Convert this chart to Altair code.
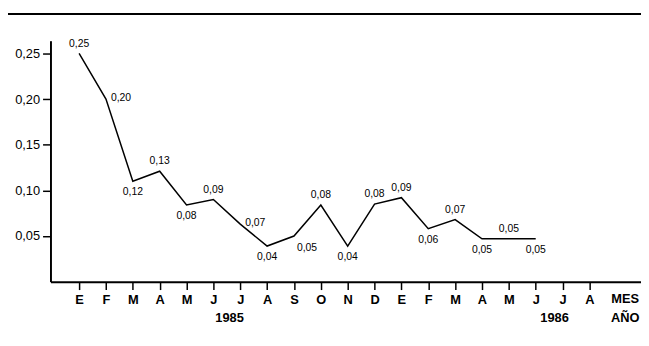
import json
import altair as alt
import pandas as pd

# --- data ---
month_letters = ["E", "F", "M", "A", "M", "J", "J", "A", "S", "O", "N", "D",
                 "E", "F", "M", "A", "M", "J", "J", "A"]
values = [0.250, 0.200, 0.110, 0.121, 0.084, 0.090, 0.063, 0.039, 0.050, 0.084,
          0.039, 0.085, 0.092, 0.058, 0.068, 0.047, 0.047, 0.047]
value_labels = ["0,25", "0,20", "0,12", "0,13", "0,08", "0,09", "0,07", "0,04", "0,05",
                "0,08", "0,04", "0,08", "0,09", "0,06", "0,07", "0,05", "0,05", "0,05"]
label_place = ["above", "right", "below", "above", "below", "above", "right", "below",
               "belowright", "above", "below", "above", "above", "below", "above",
               "below", "above", "below"]
years = ["1985", "1986"]
year_index = [5.6, 17.7]
y_ticks = [0.05, 0.10, 0.15, 0.20, 0.25]

df = pd.DataFrame({
    "i": list(range(len(values))),
    "v": values,
    "lab": value_labels,
    "place": label_place,
})

FONT = "Liberation Sans"
W, H = 598, 244

x_scale = alt.Scale(domain=[-1.066, 20.92], nice=False, zero=False)
y_scale = alt.Scale(domain=[0, 0.264], nice=False, zero=True)

label_expr = json.dumps(month_letters) + "[datum.value]"

x_axis = alt.Axis(values=list(range(len(month_letters))), labelExpr=label_expr,
                  grid=False, domainColor="black", domainWidth=2,
                  tickColor="black", tickWidth=1.5, tickSize=8,
                  labelFont=FONT, labelFontSize=13, labelColor="black",
                  labelFontWeight="bold",
                  labelPadding=4, labelFlush=False, labelOverlap=False,
                  labelBound=False, title=None)
y_axis = alt.Axis(values=y_ticks,
                  labelExpr="replace(format(datum.value, '.2f'), '.', ',')",
                  grid=False, domainColor="black", domainWidth=2,
                  tickColor="black", tickWidth=1.5, tickSize=8,
                  labelFont=FONT, labelFontSize=13, labelColor="black",
                  labelPadding=3, title=None)


def xe(field="i:Q"):
    return alt.X(field, scale=x_scale, axis=x_axis)


def ye(field="v:Q"):
    return alt.Y(field, scale=y_scale, axis=y_axis)


base = alt.Chart(df)

line = base.mark_line(color="black", strokeWidth=1.5).encode(x=xe(), y=ye())

placements = {
    "above": dict(dx=0, dy=-10, align="center"),
    "below": dict(dx=0, dy=11, align="center"),
    "right": dict(dx=5, dy=-1, align="left"),
    "belowright": dict(dx=3, dy=12, align="left"),
}

text_layers = []
for name, opt in placements.items():
    text_layers.append(
        base.transform_filter(alt.datum.place == name).mark_text(
            font=FONT, fontSize=10.5, color="black", baseline="middle", **opt
        ).encode(x=xe(), y=ye(), text="lab:N")
    )

year_df = pd.DataFrame({"i": year_index, "t": years})
year_text = alt.Chart(year_df).mark_text(
    font=FONT, fontSize=13, color="black", baseline="middle", fontWeight="bold"
).encode(x=xe(), y=alt.value(H + 37), text="t:N")

mes_text = alt.Chart(pd.DataFrame({"t": ["MES"]})).mark_text(
    font=FONT, fontSize=13, color="black", baseline="middle", align="center", fontWeight="bold"
).encode(x=alt.value(582), y=alt.value(H + 18), text="t:N")

ano_text = alt.Chart(pd.DataFrame({"t": ["AÑO"]})).mark_text(
    font=FONT, fontSize=13, color="black", baseline="middle", align="center", fontWeight="bold"
).encode(x=alt.value(582), y=alt.value(H + 37), text="t:N")

top_rule = alt.Chart(pd.DataFrame({"a": [0]})).mark_rule(color="black", strokeWidth=2).encode(
    x=alt.value(-43), x2=alt.value(W), y=alt.value(-27)
)

chart = alt.layer(top_rule, line, *text_layers, year_text, mes_text, ano_text).properties(
    width=W, height=H,
    autosize=alt.AutoSizeParams(type="none"),
    padding={"left": 43, "top": 31, "right": 0, "bottom": 60},
    background="white",
).configure_view(stroke=None)

chart.save("out.html", embed_options={"renderer": "svg", "actions": False})
